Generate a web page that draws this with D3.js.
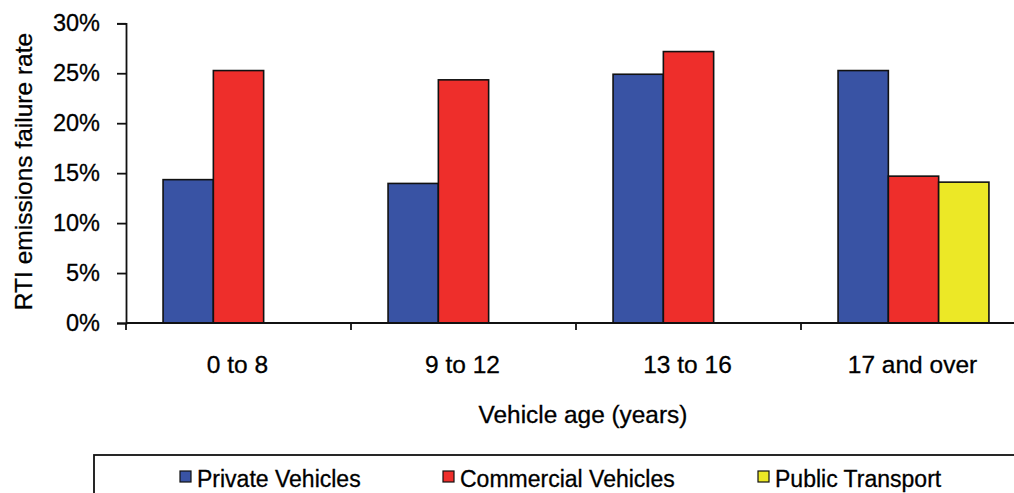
<!DOCTYPE html>
<html>
<head>
<meta charset="utf-8">
<script src="https://cdn.jsdelivr.net/npm/d3@7"></script>
<style>
  html, body { margin: 0; padding: 0; background: #fff; }
  svg { display: block; font-family: "Liberation Sans", Arial, sans-serif; }
  svg text { fill: #000; stroke: #000; stroke-width: 0.3px; }
</style>
</head>
<body>
<svg id="chart" width="1014" height="493"></svg>
<script>
// Vehicle age bands and emissions failure rate (%) by vehicle type
const categories = ["0 to 8", "9 to 12", "13 to 16", "17 and over"];
const seriesNames = ["Private Vehicles", "Commercial Vehicles", "Public Transport"];
const privateVehicles    = [14.35, 13.97, 24.9, 25.27];
const commercialVehicles = [25.27, 24.34, 27.17, 14.7];
const publicTransport    = [null, null, null, 14.1];
const yTicks = [0, 5, 10, 15, 20, 25, 30];
const colors = ["#3953a4", "#ee2e2b", "#ece826"];

const seriesValues = [privateVehicles, commercialVehicles, publicTransport];

const svg = d3.select("#chart");

const x0 = d3.scaleBand().domain(categories).range([126, 1026]).padding(0);
const x1 = d3.scaleBand().domain(seriesNames).range([0, x0.bandwidth()])
  .paddingInner(0).paddingOuter(0.737);
const y = d3.scaleLinear().domain([0, 30]).range([323, 23.3]);

// bars
const rows = categories.map((c, i) => ({
  cat: c,
  vals: seriesNames.map((s, j) => ({ s, j, v: seriesValues[j][i] }))
}));
const g = svg.append("g");
g.selectAll("g.grp").data(rows).join("g")
  .attr("class", "grp")
  .attr("transform", d => `translate(${x0(d.cat)},0)`)
  .selectAll("rect").data(d => d.vals.filter(v => v.v != null)).join("rect")
  .attr("x", d => x1(d.s))
  .attr("y", d => y(d.v))
  .attr("width", x1.bandwidth())
  .attr("height", d => y(0) - y(d.v))
  .attr("fill", d => colors[d.j])
  .attr("stroke", "#111")
  .attr("stroke-width", 1.6);

// y axis
const yAxis = svg.append("g")
  .attr("transform", "translate(126,0)")
  .call(d3.axisLeft(y).tickValues(yTicks).tickFormat(d => d + "%").tickSize(9).tickPadding(17));
yAxis.select(".domain").attr("stroke", "#111").attr("stroke-width", 1.8);
yAxis.selectAll(".tick line").attr("stroke", "#111").attr("stroke-width", 1.8);
yAxis.selectAll(".tick text")
  .attr("font-family", "'Liberation Sans', Arial, sans-serif")
  .attr("font-size", 23.5);

// x axis line and boundary ticks
svg.append("line")
  .attr("x1", 126).attr("x2", 1014).attr("y1", y(0)).attr("y2", y(0))
  .attr("stroke", "#111").attr("stroke-width", 1.8);
svg.selectAll("line.xtick").data(categories).join("line")
  .attr("class", "xtick")
  .attr("x1", d => x0(d)).attr("x2", d => x0(d))
  .attr("y1", y(0)).attr("y2", y(0) + 7)
  .attr("stroke", "#111").attr("stroke-width", 1.8);

// category labels
svg.selectAll("text.cat").data(categories).join("text")
  .attr("class", "cat")
  .attr("x", d => x0(d) + x0.bandwidth() / 2 - 1)
  .attr("y", 373)
  .attr("text-anchor", "middle")
  .attr("font-size", 24.5)
  .text(d => d);

// axis titles
svg.append("text")
  .attr("x", 583).attr("y", 423)
  .attr("text-anchor", "middle")
  .attr("font-size", 24.4)
  .text("Vehicle age (years)");
svg.append("text")
  .attr("transform", "translate(31.5,171.5) rotate(-90)")
  .attr("text-anchor", "middle")
  .attr("font-size", 24.5)
  .text("RTI emissions failure rate");

// legend
svg.append("rect")
  .attr("x", 94).attr("y", 455).attr("width", 1000).attr("height", 100)
  .attr("fill", "none").attr("stroke", "#111").attr("stroke-width", 1.8);
const legendX = [180, 443, 758];
const leg = svg.selectAll("g.leg").data(seriesNames).join("g")
  .attr("class", "leg")
  .attr("transform", (d, i) => `translate(${legendX[i]},471)`);
leg.append("rect")
  .attr("width", 11).attr("height", 11)
  .attr("fill", (d, i) => colors[i])
  .attr("stroke", "#111").attr("stroke-width", 1.2);
leg.append("text")
  .attr("x", 17).attr("y", 16)
  .attr("font-size", 23)
  .text(d => d);
</script>
</body>
</html>
